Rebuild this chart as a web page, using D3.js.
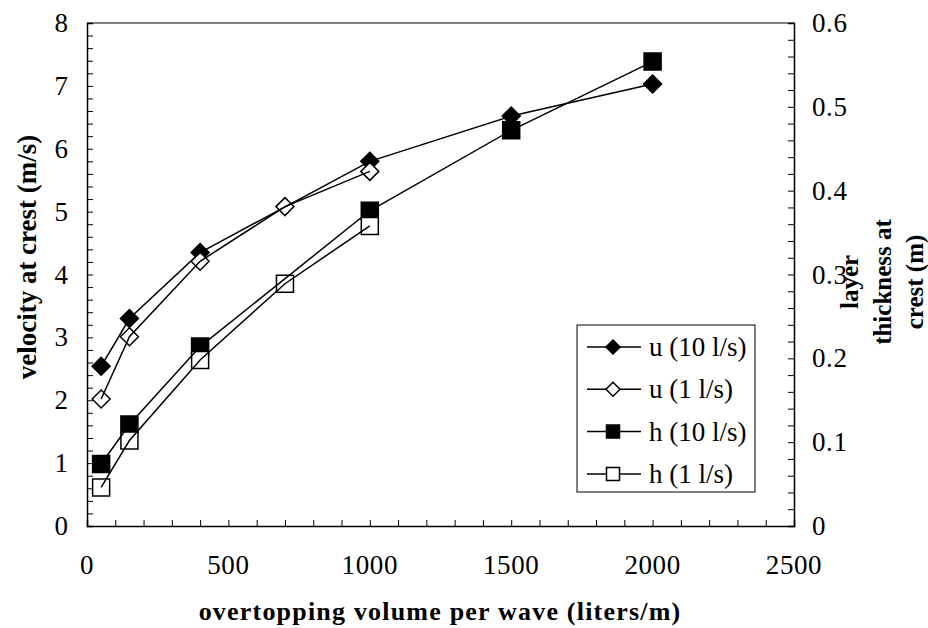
<!DOCTYPE html>
<html>
<head>
<meta charset="utf-8">
<script src="https://cdn.jsdelivr.net/npm/d3@7"></script>
<style>
  body { margin: 0; background: #fff; }
  svg text { font-family: "Liberation Serif", "Times New Roman", serif; fill: #000; }
</style>
</head>
<body>
<svg id="chart" width="928" height="628"></svg>
<script>
// overtopping volume per wave (liters/m)
var xU10 = [50, 150, 400, 1000, 1500, 2000];
var u10 = [2.54, 3.3, 4.35, 5.8, 6.52, 7.03];
var xU1 = [50, 150, 400, 700, 1000];
var u1 = [2.02, 3.01, 4.21, 5.08, 5.64];
var xH10 = [50, 150, 400, 1000, 1500, 2000];
var h10 = [0.074, 0.121, 0.214, 0.376, 0.472, 0.554];
var xH1 = [50, 150, 400, 700, 1000];
var h1 = [0.046, 0.102, 0.198, 0.289, 0.358];

var xTicks = [0, 500, 1000, 1500, 2000, 2500];
var yTicks = [0, 1, 2, 3, 4, 5, 6, 7, 8];
var y2Ticks = [0, 0.1, 0.2, 0.3, 0.4, 0.5, 0.6];
var legendLabels = ["u (10 l/s)", "u (1 l/s)", "h (10 l/s)", "h (1 l/s)"];

var svg = d3.select("#chart");
// plot box (not "top": that name belongs to window)
var plotL = 87, plotR = 794, plotT = 23, plotB = 526;

var x = d3.scaleLinear().domain([0, 2500]).range([plotL, plotR]);
var y = d3.scaleLinear().domain([0, 8]).range([plotB, plotT]);
var y2 = d3.scaleLinear().domain([0, 0.6]).range([plotB, plotT]);

// series: which scale, marker shape, filled or not
var series = [
    {xs: xU10, vs: u10, scale: y, shape: "diamond", filled: true},
    {xs: xU1, vs: u1, scale: y, shape: "diamond", filled: false},
    {xs: xH10, vs: h10, scale: y2, shape: "square", filled: true},
    {xs: xH1, vs: h1, scale: y2, shape: "square", filled: false}
];

function markerPath(shape, s) {
    if (shape == "diamond")
        return "M0," + (-s) + "L" + s + ",0L0," + s + "L" + (-s) + ",0Z";
    return "M" + (-s) + "," + (-s) + "H" + s + "V" + s + "H" + (-s) + "Z";
}

// frame top edge
svg.append("line").attr("x1", plotL).attr("x2", plotR).attr("y1", plotT).attr("y2", plotT)
    .attr("stroke", "#555").attr("stroke-width", 1.5);

// bottom axis, ticks inward
var xAxis = d3.axisBottom(x).tickValues(d3.range(0, 2501, 100)).tickSize(-6).tickFormat("");
svg.append("g").attr("transform", "translate(0," + plotB + ")").call(xAxis)
    .call(g => g.select(".domain").attr("stroke-width", 1.5));
svg.append("g").selectAll("text").data(xTicks).enter().append("text")
    .attr("x", d => x(d)).attr("y", 574).attr("text-anchor", "middle")
    .style("font-size", "27px").style("letter-spacing", "0.6px").text(d => d);

// left axis
var yAxis = d3.axisLeft(y).tickValues(d3.range(0, 8.01, 0.2)).tickSize(-6).tickFormat("");
svg.append("g").attr("transform", "translate(" + plotL + ",0)").call(yAxis)
    .call(g => g.select(".domain").attr("stroke-width", 1.5));
svg.append("g").selectAll("text").data(yTicks).enter().append("text")
    .attr("x", 68).attr("y", d => y(d) + 9).attr("text-anchor", "end")
    .style("font-size", "27px").text(d => d);

// right axis
var y2Axis = d3.axisRight(y2).tickValues(d3.range(0, 0.601, 0.02)).tickSize(-6).tickFormat("");
svg.append("g").attr("transform", "translate(" + plotR + ",0)").call(y2Axis)
    .call(g => g.select(".domain").attr("stroke-width", 1.5));
svg.append("g").selectAll("text").data(y2Ticks).enter().append("text")
    .attr("x", 812).attr("y", d => y2(d) + 9).attr("text-anchor", "start")
    .style("font-size", "27px").style("letter-spacing", "0.6px").text(d => d3.format(".1~f")(d));

// markers first, lines drawn over them
var markerLayer = svg.append("g");
var lineLayer = svg.append("g");
series.forEach(function(s) {
    var pts = s.xs.map((v, i) => [x(v), s.scale(s.vs[i])]);
    markerLayer.selectAll(null).data(pts).enter().append("path")
        .attr("transform", d => "translate(" + d[0] + "," + d[1] + ")")
        .attr("d", markerPath(s.shape, s.shape == "diamond" ? 9 : 8.5))
        .attr("fill", s.filled ? "#000" : "#fff")
        .attr("stroke", "#000").attr("stroke-width", 1.5);
    lineLayer.append("path").datum(pts)
        .attr("d", d3.line())
        .attr("fill", "none").attr("stroke", "#000").attr("stroke-width", 1.5);
});

// legend
var lg = svg.append("g");
lg.append("rect").attr("x", 577).attr("y", 325).attr("width", 178).attr("height", 167)
    .attr("fill", "#fff").attr("stroke", "#000").attr("stroke-width", 1);
series.forEach(function(s, i) {
    var ly = 347 + i * 42.3;
    lg.append("line").attr("x1", 587).attr("x2", 641).attr("y1", ly).attr("y2", ly)
        .attr("stroke", "#000").attr("stroke-width", 1.5);
    lg.append("path").attr("transform", "translate(613," + ly + ")")
        .attr("d", markerPath(s.shape, s.shape == "diamond" ? 7 : 6.5))
        .attr("fill", s.filled ? "#000" : "#fff")
        .attr("stroke", "#000").attr("stroke-width", 1.5);
    lg.append("text").attr("x", 649).attr("y", ly + 9)
        .style("font-size", "27px").text(legendLabels[i]);
});

// axis titles
svg.append("text")
    .attr("transform", "translate(36,257) rotate(-90)")
    .attr("text-anchor", "middle").style("font-size", "27px").style("font-weight", "bold")
    .text("velocity at crest (m/s)");

svg.append("text")
    .attr("x", 440).attr("y", 620).attr("text-anchor", "middle")
    .style("font-size", "26px").style("font-weight", "bold").style("letter-spacing", "1.2px")
    .text("overtopping volume per wave (liters/m)");

var rightTitle = ["layer", "thickness at", "crest (m)"];
svg.append("g").selectAll("text").data(rightTitle).enter().append("text")
    .attr("transform", (d, i) => "translate(" + (858 + i * 32.5) + ",282) rotate(-90)")
    .attr("text-anchor", "middle").style("font-size", "25px").style("font-weight", "bold")
    .text(d => d);
</script>
</body>
</html>
